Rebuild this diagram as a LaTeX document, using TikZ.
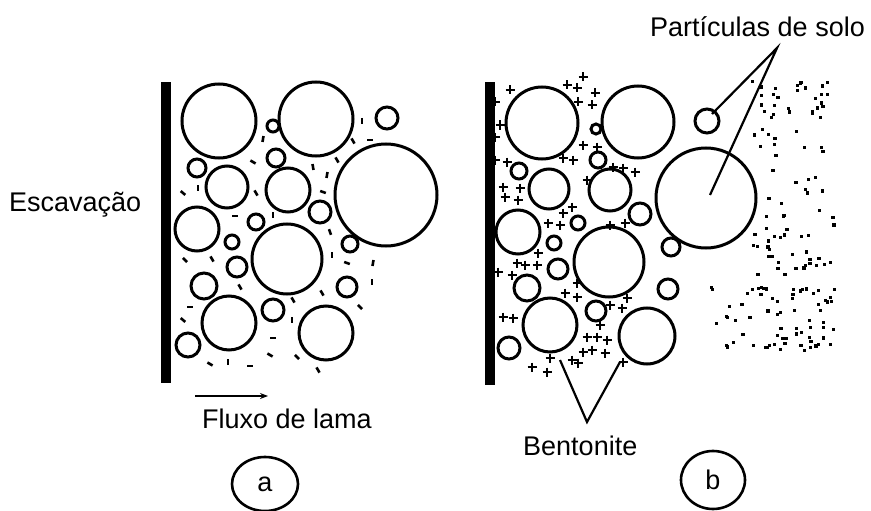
\documentclass[tikz,border=0pt]{standalone}
\usepackage{fontspec}
\setmainfont{Liberation Sans}
\usetikzlibrary{arrows.meta,shapes.geometric}
\begin{document}
\begin{tikzpicture}[x=1pt,y=-1pt,
  grain/.style={draw=black,line width=3pt},
  wallbar/.style={fill=black},
  dashmark/.style={line width=2.6pt},
  plusmark/.style={line width=2.3pt},
  lbl/.style={font=\fontsize{27}{30}\selectfont,inner sep=0pt},
  leader/.style={line width=2.2pt},
  tag/.style={draw,ellipse,line width=2.6pt,inner sep=0pt,
    font=\fontsize{27}{30}\selectfont}]
\useasboundingbox (0,0) rectangle (871,511);

% ---------------- (a) mud flow through the soil skeleton ----------------
\fill[wallbar] (161,82) rectangle (171,383);
\foreach \x/\y/\r in {219/121/37,316/119/37,273/126/6,387/118/11,386/195/51,
  197/168/9,227/187/21,276/158/9,288/190/22,320/212/11,197/229/22,256/222/8,
  232/242/7,287/259/35,350/244/8,237/267/10,204/286/13,347/287/10,229/323/27,
  273/310/11,326/333/27,188/345/12}
  \draw[grain] (\x,\y) circle[radius=\r];
% slurry streaks between the grains
\foreach \x/\y/\a in {362/121/90,353/141/60,370/140/0,263/139/100,253/162/30,
  313/167/80,327/175/100,337/160/60,323/192/20,256/193/60,183/193/40,198/188/90,
  235/216/0,273/215/90,330/232/70,332/255/90,373/263/100,347/263/20,372/282/90,
  322/293/60,293/300/60,360/307/45,185/260/45,212/259/60,190/307/0,183/320/40,
  240/287/60,292/320/90,273/338/0,270/355/30,297/357/45,318/370/60,210/364/30,
  228/362/90,250/366/0}
  \draw[dashmark] (\x,\y) ++(\a:-3) -- ++(\a:6);

\coordinate (flowA) at (195,396);
\coordinate (flowB) at (268,396);
\draw[line width=2pt,-{Stealth[length=8pt,width=6pt]}] (flowA) -- (flowB);
\node[lbl,anchor=base west] (flow) at (202,428) {Fluxo de lama};
\node[lbl,anchor=base west] (exc) at (9,211) {Escavação};
\node[tag,minimum width=66pt,minimum height=54pt] (tagA) at (265,484) {a};

% ---------------- (b) bentonite cake and soil particles ----------------
\fill[wallbar] (485,82) rectangle (495,385);
\foreach \x/\y/\r in {542/123/36,638/122/36,596/129/5,519/171/8,598/160/8,
  549/189/20,610/190/21,640/214/11,518/232/22,578/223/7,554/243/7,609/262/35,
  558/269/10,527/288/13,550/325/27,596/311/10,509/348/11,647/336/28,
  707/121/12,706/198/50,671/247/9,668/289/10}
  \draw[grain] (\x,\y) circle[radius=\r];
% bentonite charges
\foreach \x/\y in {583/77,567/85,577/88,595/93,578/102,592/105,510/90,495/102,
  500/125,495/137,495/160,507/162,503/187,505/197,520/188,518/200,563/158,
  573/160,583/145,597/147,613/167,623/168,635/172,587/180,572/207,563/213,
  548/223,560/225,610/225,625/223,538/253,517/263,525/265,537/265,498/272,
  512/275,577/283,565/293,577/297,627/298,610/305,622/308,503/317,513/318,
  600/325,587/337,597/337,607/340,605/353,583/352,592/350,572/360,578/363,
  550/358,532/367,547/372,623/362}
  \draw[plusmark] (\x-4.5,\y) -- (\x+4.5,\y) (\x,\y-4.5) -- (\x,\y+4.5);

% undisturbed soil beyond the cake
\pgfmathsetseed{17}
\foreach \i in {1,...,85}{
  \pgfmathsetmacro\dx{752+83*rnd}
  \pgfmathsetmacro\dy{78+197*rnd}
  \fill (\dx-1.6,\dy-1.6) rectangle (\dx+1.6,\dy+1.6);
}
\foreach \i in {1,...,70}{
  \pgfmathsetmacro\dx{705+130*rnd}
  \pgfmathsetmacro\dy{285+67*rnd}
  \fill (\dx-1.6,\dy-1.6) rectangle (\dx+1.6,\dy+1.6);
}

\node[lbl,anchor=base west] (soil) at (650,37) {Partículas de solo};
\coordinate (soilApex) at (777,48);
\coordinate (smallGrain) at (712,114);
\coordinate (bigGrain) at (710,195);
\draw[leader] (smallGrain) -- (soilApex) -- (bigGrain);

\node[lbl,anchor=base west] (bent) at (523,455) {Bentonite};
\coordinate (bentApex) at (587,422);
\coordinate (bentL) at (560,360);
\coordinate (bentR) at (620,362);
\draw[leader] (bentL) -- (bentApex) -- (bentR);

\node[tag,minimum width=64pt,minimum height=58pt] (tagB) at (713,480) {b};
\end{tikzpicture}
\end{document}
